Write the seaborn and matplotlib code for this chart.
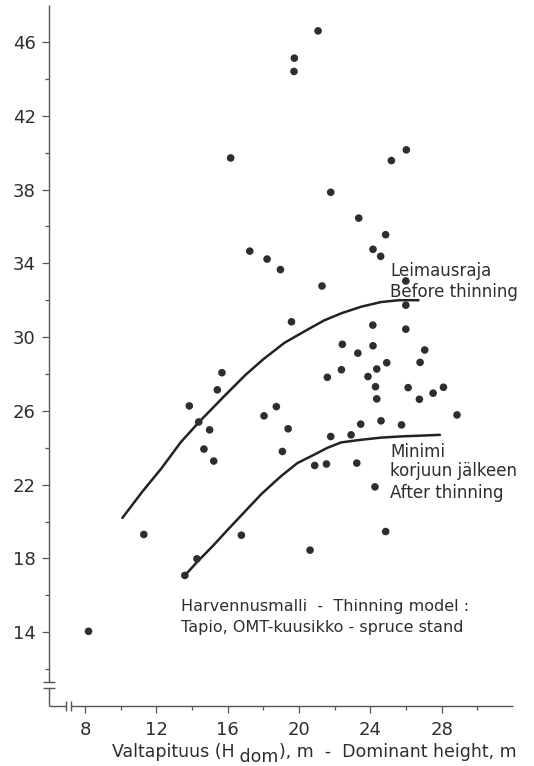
import matplotlib
matplotlib.use("Agg")
import matplotlib.pyplot as plt
import seaborn as sns
import pandas as pd

# Observed stands: dominant height (m) vs basal area (m2/ha)
dom_height = [8.2, 11.3, 13.85, 14.38, 13.6, 14.28, 21.07, 19.74, 19.72, 16.17,
              21.78, 23.35, 17.24, 18.21, 18.96, 21.29, 19.58, 22.43, 23.3, 15.68,
              22.38, 21.59, 15.42, 18.04, 18.73, 14.99, 19.39, 14.67, 15.22, 19.07,
              21.78, 22.92, 23.46, 20.88, 21.54, 23.24, 16.77, 20.62, 24.58, 24.15,
              24.86, 25.99, 25.99, 24.14, 25.99, 24.15, 27.05, 24.92, 26.79, 24.36,
              23.87, 24.29, 26.12, 28.1, 24.36, 26.75, 27.52, 28.86, 24.6, 25.75,
              24.26, 24.86, 26.02, 25.18]
basal_area = [14.05, 19.3, 26.27, 25.4, 17.08, 17.98, 46.6, 45.12, 44.4, 39.71,
              37.85, 36.45, 34.66, 34.23, 33.66, 32.77, 30.83, 29.61, 29.13, 28.07,
              28.23, 27.82, 27.14, 25.73, 26.23, 24.97, 25.03, 23.93, 23.28, 23.8,
              24.61, 24.7, 25.28, 23.04, 23.12, 23.17, 19.26, 18.45, 34.38, 34.76,
              35.55, 33.04, 31.73, 30.65, 30.43, 29.53, 29.3, 28.61, 28.63, 28.27,
              27.86, 27.31, 27.26, 27.28, 26.65, 26.63, 26.96, 25.78, 25.46, 25.24,
              21.88, 19.46, 40.15, 39.57]

# Thinning model curves (Tapio, OMT spruce stands)
before_h = [10.1, 11.2, 12.3, 13.37, 14.4, 15.77, 17.0, 18.0, 19.2, 20.47, 21.4, 22.4, 23.5, 24.6, 25.6, 26.7]
before_g = [20.2, 21.6, 22.9, 24.3, 25.4, 26.76, 27.95, 28.8, 29.7, 30.4, 30.9, 31.3, 31.65, 31.9, 32.0, 32.0]
after_h = [13.6, 14.28, 15.24, 16.0, 16.73, 17.9, 18.98, 19.91, 20.84, 21.6, 22.36, 23.46, 24.6, 25.8, 26.9, 27.9]
after_g = [17.08, 17.8, 18.75, 19.55, 20.3, 21.5, 22.45, 23.17, 23.62, 24.0, 24.29, 24.43, 24.55, 24.62, 24.66, 24.7]

x_ticks = [8, 12, 16, 20, 24, 28]
x_minor = [10, 14, 18, 22, 26, 30]
y_ticks = [14, 18, 22, 26, 30, 34, 38, 42, 46]
y_minor = [12, 16, 20, 24, 28, 32, 36, 40, 44]

sns.set_theme(style="white")
plt.rcParams["font.family"] = ["DejaVu Sans"]

ink = "#2e2e2e"
axis_col = "#555555"

fig = plt.figure(figsize=(5.34, 7.66), dpi=100)
ax = fig.add_axes([0.0923, 0.0783, 0.8684, 0.9151])

pts = pd.DataFrame({"h": dom_height, "g": basal_area})
sns.scatterplot(data=pts, x="h", y="g", ax=ax, s=30, color=ink,
                edgecolor="none", zorder=3, clip_on=False)

sns.lineplot(x=before_h, y=before_g, ax=ax, color="#222222", lw=1.8,
             sort=False, estimator=None)
sns.lineplot(x=after_h, y=after_g, ax=ax, color="#222222", lw=1.8,
             sort=False, estimator=None)

ax.set_xlim(6, 32)
ax.set_ylim(10, 48)
ax.set_xlabel("")
ax.set_ylabel("")

for s in ax.spines.values():
    s.set_visible(False)

# Broken axes drawn by hand
axis_kw = dict(color=axis_col, lw=1.0, clip_on=False, solid_capstyle="butt")
ax.plot([6, 6], [11.28, 48], **axis_kw)
ax.plot([6, 6], [10.0, 10.96], **axis_kw)
ax.plot([6, 6.92], [10, 10], **axis_kw)
ax.plot([7.24, 32], [10, 10], **axis_kw)
ax.plot([6, 6], [11.28, 10.96], ls="none", marker="_", ms=8, mew=1.0,
        color=axis_col, clip_on=False)
ax.plot([6.92, 7.24], [10, 10], ls="none", marker="|", ms=6.5, mew=1.0,
        color=axis_col, clip_on=False)

ax.set_xticks(x_ticks)
ax.set_yticks(y_ticks)
ax.set_xticks(x_minor, minor=True)
ax.set_yticks(y_minor, minor=True)
ax.tick_params(axis="both", which="major", direction="out", length=4.7,
               width=0.9, color=axis_col, labelsize=13, labelcolor=ink, pad=5)
ax.tick_params(axis="both", which="minor", direction="out", length=2.8,
               width=0.9, color=axis_col)
ax.tick_params(bottom=True, left=True, which="both")
ax.tick_params(axis="x", which="major", pad=6)

txt = dict(color=ink, fontsize=12, va="baseline", ha="left")
ax.text(25.11, 33.31, "Leimausraja", **txt)
ax.text(25.11, 32.19, "Before thinning", **txt)
ax.text(25.11, 23.5, "Minimi", **txt)
ax.text(25.11, 22.47, "korjuun jälkeen", **txt)
ax.text(25.11, 21.26, "After thinning", **txt)
txt2 = dict(txt, fontsize=11.5)
ax.text(13.39, 15.15, "Harvennusmalli  -  Thinning model :", **txt2)
ax.text(13.39, 14.03, "Tapio, OMT-kuusikko - spruce stand", **txt2)

# x-axis title with lowered "dom"
lab = dict(color=ink, fontsize=12.5, va="bottom", ha="left")
t1 = fig.text(111.7 / 534, 1 - 761 / 766, "Valtapituus (H", **lab)
t2 = ax.annotate(" dom", xy=(1, 0), xycoords=t1, xytext=(0, -3.4),
                 textcoords="offset points", annotation_clip=False, **lab)
t3 = ax.annotate("), m  -  Dominant height, m", xy=(1, 0), xycoords=t2,
                 xytext=(0, 3.4), textcoords="offset points",
                 annotation_clip=False, **lab)

fig.savefig("out.png", dpi=100)
